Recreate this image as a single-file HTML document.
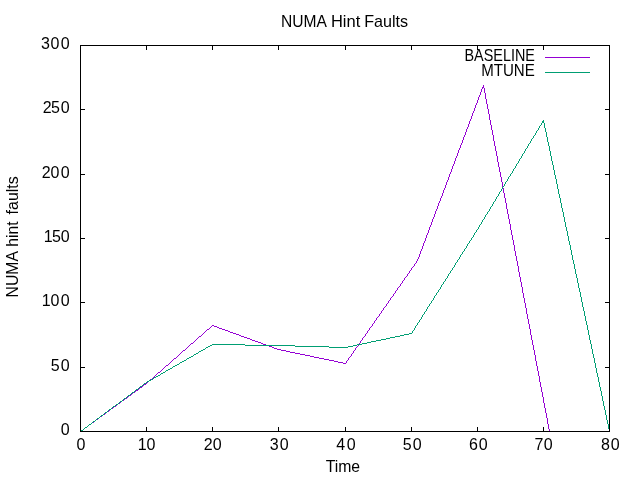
<!DOCTYPE html>
<html lang="en">
<head>
<meta charset="utf-8">
<title>NUMA Hint Faults</title>
<style>
html,body{margin:0;padding:0;background:#fff;}
body{width:640px;height:480px;overflow:hidden;}
svg{display:block;}
text{font-family:"Liberation Sans",sans-serif;font-size:16px;fill:#000;}
</style>
</head>
<body>
<svg width="640" height="480" viewBox="0 0 640 480">
<rect x="0" y="0" width="640" height="480" fill="#ffffff"/>
<!-- plot curves -->
<path fill="#9400d3" shape-rendering="crispEdges" d="M80 431h1v1h-1zM81 430h2v1h-2zM83 429h1v1h-1zM84 428h1v1h-1zM85 427h2v1h-2zM87 426h1v1h-1zM88 425h1v1h-1zM89 424h2v1h-2zM91 423h1v1h-1zM92 422h2v1h-2zM94 421h1v1h-1zM95 420h1v1h-1zM96 419h2v1h-2zM98 418h1v1h-1zM99 417h1v1h-1zM100 416h2v1h-2zM102 415h1v1h-1zM103 414h2v1h-2zM105 413h1v1h-1zM106 412h1v1h-1zM107 411h2v1h-2zM109 410h1v1h-1zM110 409h1v1h-1zM111 408h2v1h-2zM113 407h1v1h-1zM114 406h2v1h-2zM116 405h1v1h-1zM117 404h1v1h-1zM118 403h2v1h-2zM120 402h1v1h-1zM121 401h1v1h-1zM122 400h2v1h-2zM124 399h1v1h-1zM125 398h2v1h-2zM127 397h1v1h-1zM128 396h1v1h-1zM129 395h2v1h-2zM131 394h1v1h-1zM132 393h1v1h-1zM133 392h2v1h-2zM135 391h1v1h-1zM136 390h2v1h-2zM138 389h1v1h-1zM139 388h1v1h-1zM140 387h2v1h-2zM142 386h1v1h-1zM143 385h1v1h-1zM144 384h2v1h-2zM146 383h1v1h-1zM147 382h1v1h-1zM148 381h1v1h-1zM149 380h1v1h-1zM150 379h2v1h-2zM152 378h1v1h-1zM153 377h1v1h-1zM154 376h1v1h-1zM155 375h1v1h-1zM156 374h1v1h-1zM157 373h1v1h-1zM158 372h2v1h-2zM160 371h1v1h-1zM161 370h1v1h-1zM162 369h1v1h-1zM163 368h1v1h-1zM164 367h1v1h-1zM165 366h1v1h-1zM166 365h2v1h-2zM168 364h1v1h-1zM169 363h1v1h-1zM170 362h1v1h-1zM171 361h1v1h-1zM172 360h1v1h-1zM173 359h1v1h-1zM174 358h2v1h-2zM176 357h1v1h-1zM177 356h1v1h-1zM178 355h1v1h-1zM179 354h1v1h-1zM180 353h1v1h-1zM181 352h1v1h-1zM182 351h1v1h-1zM183 350h2v1h-2zM185 349h1v1h-1zM186 348h1v1h-1zM187 347h1v1h-1zM188 346h1v1h-1zM189 345h1v1h-1zM190 344h1v1h-1zM191 343h2v1h-2zM193 342h1v1h-1zM194 341h1v1h-1zM195 340h1v1h-1zM196 339h1v1h-1zM197 338h1v1h-1zM198 337h1v1h-1zM199 336h2v1h-2zM201 335h1v1h-1zM202 334h1v1h-1zM203 333h1v1h-1zM204 332h1v1h-1zM205 331h1v1h-1zM206 330h1v1h-1zM207 329h2v1h-2zM209 328h1v1h-1zM210 327h1v1h-1zM211 326h1v1h-1zM212 325h2v1h-2zM214 326h3v1h-3zM217 327h2v1h-2zM219 328h3v1h-3zM222 329h3v1h-3zM225 330h3v1h-3zM228 331h2v1h-2zM230 332h3v1h-3zM233 333h3v1h-3zM236 334h3v1h-3zM239 335h2v1h-2zM241 336h3v1h-3zM244 337h3v1h-3zM247 338h3v1h-3zM250 339h2v1h-2zM252 340h3v1h-3zM255 341h3v1h-3zM258 342h3v1h-3zM261 343h2v1h-2zM263 344h3v1h-3zM266 345h3v1h-3zM269 346h3v1h-3zM272 347h2v1h-2zM274 348h3v1h-3zM277 349h4v1h-4zM281 350h5v1h-5zM286 351h4v1h-4zM290 352h5v1h-5zM295 353h5v1h-5zM300 354h5v1h-5zM305 355h5v1h-5zM310 356h4v1h-4zM314 357h5v1h-5zM319 358h5v1h-5zM324 359h5v1h-5zM329 360h5v1h-5zM334 361h4v1h-4zM338 362h5v1h-5zM343 363h3v1h-3zM346 361h1v2h-1zM347 360h1v1h-1zM348 358h1v2h-1zM349 357h1v1h-1zM350 356h1v1h-1zM351 354h1v2h-1zM352 353h1v1h-1zM353 351h1v2h-1zM354 350h1v1h-1zM355 348h1v2h-1zM356 347h1v1h-1zM357 346h1v1h-1zM358 344h1v2h-1zM359 343h1v1h-1zM360 341h1v2h-1zM361 340h1v1h-1zM362 338h1v2h-1zM363 337h1v1h-1zM364 336h1v1h-1zM365 334h1v2h-1zM366 333h1v1h-1zM367 331h1v2h-1zM368 330h1v1h-1zM369 328h1v2h-1zM370 327h1v1h-1zM371 326h1v1h-1zM372 324h1v2h-1zM373 323h1v1h-1zM374 321h1v2h-1zM375 320h1v1h-1zM376 318h1v2h-1zM377 317h1v1h-1zM378 316h1v1h-1zM379 314h1v2h-1zM380 313h1v1h-1zM381 311h1v2h-1zM382 310h1v1h-1zM383 308h1v2h-1zM384 307h1v1h-1zM385 306h1v1h-1zM386 304h1v2h-1zM387 303h1v1h-1zM388 301h1v2h-1zM389 300h1v1h-1zM390 298h1v2h-1zM391 297h1v1h-1zM392 296h1v1h-1zM393 294h1v2h-1zM394 293h1v1h-1zM395 291h1v2h-1zM396 290h1v1h-1zM397 288h1v2h-1zM398 287h1v1h-1zM399 286h1v1h-1zM400 284h1v2h-1zM401 283h1v1h-1zM402 281h1v2h-1zM403 280h1v1h-1zM404 278h1v2h-1zM405 277h1v1h-1zM406 276h1v1h-1zM407 274h1v2h-1zM408 273h1v1h-1zM409 271h1v2h-1zM410 270h1v1h-1zM411 268h1v2h-1zM412 267h1v1h-1zM413 266h1v1h-1zM414 264h1v2h-1zM415 263h1v1h-1zM416 261h1v2h-1zM417 259h1v2h-1zM418 257h1v2h-1zM419 254h1v3h-1zM420 251h1v3h-1zM421 249h1v2h-1zM422 246h1v3h-1zM423 243h1v3h-1zM424 241h1v2h-1zM425 238h1v3h-1zM426 235h1v3h-1zM427 233h1v2h-1zM428 230h1v3h-1zM429 227h1v3h-1zM430 225h1v2h-1zM431 222h1v3h-1zM432 219h1v3h-1zM433 217h1v2h-1zM434 214h1v3h-1zM435 211h1v3h-1zM436 209h1v2h-1zM437 206h1v3h-1zM438 203h1v3h-1zM439 201h1v2h-1zM440 198h1v3h-1zM441 196h1v2h-1zM442 193h1v3h-1zM443 190h1v3h-1zM444 188h1v2h-1zM445 185h1v3h-1zM446 182h1v3h-1zM447 180h1v2h-1zM448 177h1v3h-1zM449 174h1v3h-1zM450 172h1v2h-1zM451 169h1v3h-1zM452 166h1v3h-1zM453 164h1v2h-1zM454 161h1v3h-1zM455 158h1v3h-1zM456 156h1v2h-1zM457 153h1v3h-1zM458 150h1v3h-1zM459 148h1v2h-1zM460 145h1v3h-1zM461 143h1v2h-1zM462 140h1v3h-1zM463 137h1v3h-1zM464 135h1v2h-1zM465 132h1v3h-1zM466 129h1v3h-1zM467 127h1v2h-1zM468 124h1v3h-1zM469 121h1v3h-1zM470 119h1v2h-1zM471 116h1v3h-1zM472 113h1v3h-1zM473 111h1v2h-1zM474 108h1v3h-1zM475 105h1v3h-1zM476 103h1v2h-1zM477 100h1v3h-1zM478 97h1v3h-1zM479 95h1v2h-1zM480 92h1v3h-1zM481 89h1v3h-1zM482 87h2v1h-2zM482 88h1v1h-1zM483 85h1v2h-1zM484 88h1v5h-1zM485 93h1v6h-1zM486 99h1v5h-1zM487 104h1v5h-1zM488 109h1v5h-1zM489 114h1v6h-1zM490 120h1v5h-1zM491 125h1v5h-1zM492 130h1v5h-1zM493 135h1v6h-1zM494 141h1v5h-1zM495 146h1v5h-1zM496 151h1v5h-1zM497 156h1v6h-1zM498 162h1v5h-1zM499 167h1v5h-1zM500 172h1v5h-1zM501 177h1v5h-1zM502 182h1v6h-1zM503 188h1v5h-1zM504 193h1v5h-1zM505 198h1v5h-1zM506 203h1v6h-1zM507 209h1v5h-1zM508 214h1v5h-1zM509 219h1v5h-1zM510 224h1v6h-1zM511 230h1v5h-1zM512 235h1v5h-1zM513 240h1v5h-1zM514 245h1v6h-1zM515 251h1v5h-1zM516 256h1v5h-1zM517 261h1v5h-1zM518 266h1v6h-1zM519 272h1v5h-1zM520 277h1v5h-1zM521 282h1v5h-1zM522 287h1v6h-1zM523 293h1v5h-1zM524 298h1v5h-1zM525 303h1v5h-1zM526 308h1v6h-1zM527 314h1v5h-1zM528 319h1v5h-1zM529 324h1v5h-1zM530 329h1v6h-1zM531 335h1v5h-1zM532 340h1v5h-1zM533 345h1v5h-1zM534 350h1v5h-1zM535 355h1v6h-1zM536 361h1v5h-1zM537 366h1v5h-1zM538 371h1v5h-1zM539 376h1v6h-1zM540 382h1v5h-1zM541 387h1v5h-1zM542 392h1v5h-1zM543 397h1v6h-1zM544 403h1v5h-1zM545 408h1v5h-1zM546 413h1v5h-1zM547 418h1v6h-1zM548 424h1v5h-1zM549 429h1v3h-1z"/>
<path fill="#009e73" shape-rendering="crispEdges" d="M80 431h1v1h-1zM81 430h2v1h-2zM83 429h1v1h-1zM84 428h1v1h-1zM85 427h2v1h-2zM87 426h1v1h-1zM88 425h1v1h-1zM89 424h2v1h-2zM91 423h1v1h-1zM92 422h1v1h-1zM93 421h2v1h-2zM95 420h1v1h-1zM96 419h1v1h-1zM97 418h2v1h-2zM99 417h1v1h-1zM100 416h1v1h-1zM101 415h2v1h-2zM103 414h1v1h-1zM104 413h1v1h-1zM105 412h2v1h-2zM107 411h1v1h-1zM108 410h1v1h-1zM109 409h2v1h-2zM111 408h1v1h-1zM112 407h1v1h-1zM113 406h2v1h-2zM115 405h1v1h-1zM116 404h2v1h-2zM118 403h1v1h-1zM119 402h1v1h-1zM120 401h2v1h-2zM122 400h1v1h-1zM123 399h1v1h-1zM124 398h2v1h-2zM126 397h1v1h-1zM127 396h1v1h-1zM128 395h2v1h-2zM130 394h1v1h-1zM131 393h1v1h-1zM132 392h2v1h-2zM134 391h1v1h-1zM135 390h1v1h-1zM136 389h2v1h-2zM138 388h1v1h-1zM139 387h1v1h-1zM140 386h2v1h-2zM142 385h1v1h-1zM143 384h1v1h-1zM144 383h2v1h-2zM146 382h1v1h-1zM147 381h2v1h-2zM149 380h2v1h-2zM151 379h2v1h-2zM153 378h1v1h-1zM154 377h2v1h-2zM156 376h2v1h-2zM158 375h2v1h-2zM160 374h1v1h-1zM161 373h2v1h-2zM163 372h2v1h-2zM165 371h1v1h-1zM166 370h2v1h-2zM168 369h2v1h-2zM170 368h2v1h-2zM172 367h1v1h-1zM173 366h2v1h-2zM175 365h2v1h-2zM177 364h2v1h-2zM179 363h1v1h-1zM180 362h2v1h-2zM182 361h2v1h-2zM184 360h2v1h-2zM186 359h1v1h-1zM187 358h2v1h-2zM189 357h2v1h-2zM191 356h2v1h-2zM193 355h1v1h-1zM194 354h2v1h-2zM196 353h2v1h-2zM198 352h1v1h-1zM199 351h2v1h-2zM201 350h2v1h-2zM203 349h2v1h-2zM205 348h1v1h-1zM206 347h2v1h-2zM208 346h2v1h-2zM210 345h2v1h-2zM212 344h33v1h-33zM245 345h50v1h-50zM295 346h34v1h-34zM329 347h19v1h-19zM348 346h5v1h-5zM353 345h4v1h-4zM357 344h5v1h-5zM362 343h5v1h-5zM367 342h4v1h-4zM371 341h5v1h-5zM376 340h5v1h-5zM381 339h5v1h-5zM386 338h4v1h-4zM390 337h5v1h-5zM395 336h5v1h-5zM400 335h4v1h-4zM404 334h5v1h-5zM409 333h3v1h-3zM412 331h1v2h-1zM413 330h1v1h-1zM414 328h1v2h-1zM415 326h1v2h-1zM416 325h1v1h-1zM417 323h1v2h-1zM418 322h1v1h-1zM419 320h1v2h-1zM420 319h1v1h-1zM421 317h1v2h-1zM422 315h1v2h-1zM423 314h1v1h-1zM424 312h1v2h-1zM425 311h1v1h-1zM426 309h1v2h-1zM427 307h1v2h-1zM428 306h1v1h-1zM429 304h1v2h-1zM430 303h1v1h-1zM431 301h1v2h-1zM432 300h1v1h-1zM433 298h1v2h-1zM434 296h1v2h-1zM435 295h1v1h-1zM436 293h1v2h-1zM437 292h1v1h-1zM438 290h1v2h-1zM439 289h1v1h-1zM440 287h1v2h-1zM441 285h1v2h-1zM442 284h1v1h-1zM443 282h1v2h-1zM444 281h1v1h-1zM445 279h1v2h-1zM446 278h1v1h-1zM447 276h1v2h-1zM448 274h1v2h-1zM449 273h1v1h-1zM450 271h1v2h-1zM451 270h1v1h-1zM452 268h1v2h-1zM453 267h1v1h-1zM454 265h1v2h-1zM455 263h1v2h-1zM456 262h1v1h-1zM457 260h1v2h-1zM458 259h1v1h-1zM459 257h1v2h-1zM460 255h1v2h-1zM461 254h1v1h-1zM462 252h1v2h-1zM463 251h1v1h-1zM464 249h1v2h-1zM465 248h1v1h-1zM466 246h1v2h-1zM467 244h1v2h-1zM468 243h1v1h-1zM469 241h1v2h-1zM470 240h1v1h-1zM471 238h1v2h-1zM472 237h1v1h-1zM473 235h1v2h-1zM474 233h1v2h-1zM475 232h1v1h-1zM476 230h1v2h-1zM477 229h1v1h-1zM478 227h1v2h-1zM479 225h1v2h-1zM480 224h1v1h-1zM481 222h1v2h-1zM482 220h1v2h-1zM483 219h1v1h-1zM484 217h1v2h-1zM485 215h1v2h-1zM486 214h1v1h-1zM487 212h1v2h-1zM488 211h1v1h-1zM489 209h1v2h-1zM490 207h1v2h-1zM491 206h1v1h-1zM492 204h1v2h-1zM493 202h1v2h-1zM494 201h1v1h-1zM495 199h1v2h-1zM496 197h1v2h-1zM497 196h1v1h-1zM498 194h1v2h-1zM499 192h1v2h-1zM500 191h1v1h-1zM501 189h1v2h-1zM502 187h1v2h-1zM503 186h1v1h-1zM504 184h1v2h-1zM505 182h1v2h-1zM506 181h1v1h-1zM507 179h1v2h-1zM508 177h1v2h-1zM509 176h1v1h-1zM510 174h1v2h-1zM511 173h1v1h-1zM512 171h1v2h-1zM513 169h1v2h-1zM514 168h1v1h-1zM515 166h1v2h-1zM516 164h1v2h-1zM517 163h1v1h-1zM518 161h1v2h-1zM519 159h1v2h-1zM520 158h1v1h-1zM521 156h1v2h-1zM522 154h1v2h-1zM523 153h1v1h-1zM524 151h1v2h-1zM525 149h1v2h-1zM526 148h1v1h-1zM527 146h1v2h-1zM528 144h1v2h-1zM529 143h1v1h-1zM530 141h1v2h-1zM531 139h1v2h-1zM532 138h1v1h-1zM533 136h1v2h-1zM534 135h1v1h-1zM535 133h1v2h-1zM536 131h1v2h-1zM537 130h1v1h-1zM538 128h1v2h-1zM539 126h1v2h-1zM540 125h1v1h-1zM541 123h1v2h-1zM542 121h2v2h-2zM543 120h1v1h-1zM544 123h1v5h-1zM545 128h1v4h-1zM546 132h1v5h-1zM547 137h1v5h-1zM548 142h1v4h-1zM549 146h1v5h-1zM550 151h1v5h-1zM551 156h1v5h-1zM552 161h1v4h-1zM553 165h1v5h-1zM554 170h1v5h-1zM555 175h1v4h-1zM556 179h1v5h-1zM557 184h1v5h-1zM558 189h1v5h-1zM559 194h1v4h-1zM560 198h1v5h-1zM561 203h1v5h-1zM562 208h1v4h-1zM563 212h1v5h-1zM564 217h1v5h-1zM565 222h1v5h-1zM566 227h1v4h-1zM567 231h1v5h-1zM568 236h1v5h-1zM569 241h1v4h-1zM570 245h1v5h-1zM571 250h1v5h-1zM572 255h1v5h-1zM573 260h1v4h-1zM574 264h1v5h-1zM575 269h1v5h-1zM576 274h1v4h-1zM577 278h1v5h-1zM578 283h1v5h-1zM579 288h1v4h-1zM580 292h1v5h-1zM581 297h1v5h-1zM582 302h1v5h-1zM583 307h1v4h-1zM584 311h1v5h-1zM585 316h1v5h-1zM586 321h1v4h-1zM587 325h1v5h-1zM588 330h1v5h-1zM589 335h1v5h-1zM590 340h1v4h-1zM591 344h1v5h-1zM592 349h1v5h-1zM593 354h1v4h-1zM594 358h1v5h-1zM595 363h1v5h-1zM596 368h1v5h-1zM597 373h1v4h-1zM598 377h1v5h-1zM599 382h1v5h-1zM600 387h1v4h-1zM601 391h1v5h-1zM602 396h1v5h-1zM603 401h1v5h-1zM604 406h1v4h-1zM605 410h1v5h-1zM606 415h1v5h-1zM607 420h1v4h-1zM608 424h1v5h-1zM609 429h1v3h-1z"/>
<!-- key samples -->
<rect x="545" y="57" width="45" height="1" fill="#9400d3" shape-rendering="crispEdges"/>
<rect x="545" y="72" width="45" height="1" fill="#009e73" shape-rendering="crispEdges"/>
<!-- tics and border -->
<g fill="#000" shape-rendering="crispEdges">
<rect x="80" y="427" width="1" height="5"/><rect x="80" y="45" width="1" height="5"/>
<rect x="146" y="427" width="1" height="5"/><rect x="146" y="45" width="1" height="5"/>
<rect x="212" y="427" width="1" height="5"/><rect x="212" y="45" width="1" height="5"/>
<rect x="278" y="427" width="1" height="5"/><rect x="278" y="45" width="1" height="5"/>
<rect x="345" y="427" width="1" height="5"/><rect x="345" y="45" width="1" height="5"/>
<rect x="411" y="427" width="1" height="5"/><rect x="411" y="45" width="1" height="5"/>
<rect x="477" y="427" width="1" height="5"/><rect x="477" y="45" width="1" height="5"/>
<rect x="543" y="427" width="1" height="5"/><rect x="543" y="45" width="1" height="5"/>
<rect x="609" y="427" width="1" height="5"/><rect x="609" y="45" width="1" height="5"/>
<rect x="80" y="431" width="5" height="1"/><rect x="605" y="431" width="5" height="1"/>
<rect x="80" y="367" width="5" height="1"/><rect x="605" y="367" width="5" height="1"/>
<rect x="80" y="302" width="5" height="1"/><rect x="605" y="302" width="5" height="1"/>
<rect x="80" y="238" width="5" height="1"/><rect x="605" y="238" width="5" height="1"/>
<rect x="80" y="174" width="5" height="1"/><rect x="605" y="174" width="5" height="1"/>
<rect x="80" y="109" width="5" height="1"/><rect x="605" y="109" width="5" height="1"/>
<rect x="80" y="45" width="5" height="1"/><rect x="605" y="45" width="5" height="1"/>
<rect x="80" y="45" width="530" height="1"/><rect x="80" y="431" width="530" height="1"/><rect x="80" y="45" width="1" height="387"/><rect x="609" y="45" width="1" height="387"/>
</g>
<!-- y tic labels -->
<g>
<text x="60.65" y="435">0</text>
<text x="50.75 60.65" y="371">50</text>
<text x="41.75 50.4 60.65" y="306">100</text>
<text x="43.65 51.95 60.65" y="242">150</text>
<text x="41.8 50.4 60.65" y="178">200</text>
<text x="42.85 50.9 60.65" y="113">250</text>
<text x="40.9 50.6 60.7" y="49">300</text>
</g>
<!-- x tic labels -->
<g>
<text x="76.5" y="450">0</text>
<text x="137.85 146.5" y="450">10</text>
<text x="203.65 212.65" y="450">20</text>
<text x="269.75 279.65" y="450">30</text>
<text x="336.15 346.65" y="450">40</text>
<text x="402.85 412.65" y="450">50</text>
<text x="469.05 478.65" y="450">60</text>
<text x="534.45 543.65" y="450">70</text>
<text x="601.1 610.65" y="450">80</text>
</g>
<!-- title -->
<g><text transform="translate(280.905,27) scale(0.975,1)">NUMA</text> <text transform="translate(330.94,27) scale(1.031,1)">Hint</text> <text transform="translate(364.23,27) scale(1.007,1)">Faults</text></g>
<!-- x axis label -->
<text transform="translate(325.65,472) scale(0.986,1)">Time</text>
<!-- y axis label -->
<g><text transform="translate(18,297.42) rotate(-90) scale(0.984,1)">NUMA</text> <text transform="translate(18,246.685) rotate(-90) scale(0.978,1)">hint</text> <text transform="translate(18,214.385) rotate(-90) scale(0.995,1)">faults</text></g>
<!-- key -->
<text transform="translate(464.49,61) scale(0.9,1)">BASELINE</text>
<text transform="translate(481.145,76) scale(0.944,1)">MTUNE</text>
</svg>
</body>
</html>
